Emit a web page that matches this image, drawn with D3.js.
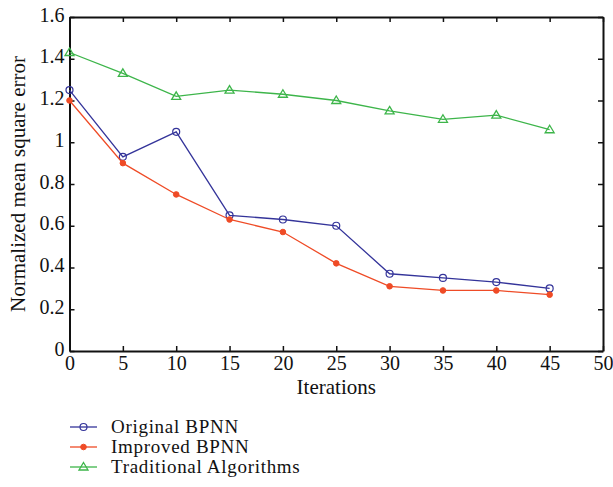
<!DOCTYPE html>
<html>
<head>
<meta charset="utf-8">
<script src="https://cdn.jsdelivr.net/npm/d3@7/dist/d3.min.js"></script>
<style>
  body { margin: 0; background: #fff; }
  text { font-family: "Liberation Serif", "DejaVu Serif", serif; fill: #111; }
</style>
</head>
<body>
<div id="chart"></div>
<script>
const iterations = [0, 5, 10, 15, 20, 25, 30, 35, 40, 45];
const originalBpnn = [1.25, 0.93, 1.05, 0.65, 0.63, 0.60, 0.37, 0.35, 0.33, 0.30];
const improvedBpnn = [1.20, 0.90, 0.75, 0.63, 0.57, 0.42, 0.31, 0.29, 0.29, 0.27];
const traditional = [1.43, 1.33, 1.22, 1.25, 1.23, 1.20, 1.15, 1.11, 1.13, 1.06];
const xTicks = [0, 5, 10, 15, 20, 25, 30, 35, 40, 45, 50];
const yTicks = [0, 0.2, 0.4, 0.6, 0.8, 1, 1.2, 1.4, 1.6];

const series = [
  { name: 'Original BPNN', values: originalBpnn, color: '#34349a', marker: 'circle' },
  { name: 'Improved BPNN', values: improvedBpnn, color: '#ef4b26', marker: 'dot' },
  { name: 'Traditional Algorithms', values: traditional, color: '#3db54a', marker: 'triangle' }
];

const width = 613, height = 487;
const margin = { left: 69.5, right: 10, top: 17, bottom: 136 };

const svg = d3.select('#chart').append('svg')
  .attr('width', width)
  .attr('height', height);

const x = d3.scaleLinear().domain([0, 50]).range([margin.left, width - margin.right]);
const y = d3.scaleLinear().domain([0, 1.6]).range([height - margin.bottom, margin.top]);

const fmt = d => d === 0 || d === 1 ? String(d) : d3.format('.1f')(d);

// axes, ticks pointing inward
svg.append('g')
  .attr('transform', `translate(0,${y(0)})`)
  .call(d3.axisBottom(x).tickValues(xTicks).tickSize(-5).tickPadding(5).tickSizeOuter(0))
  .call(g => g.selectAll('text').style('font-size', '20px'));

svg.append('g')
  .attr('transform', `translate(0,${y(1.6)})`)
  .call(d3.axisTop(x).tickValues(xTicks).tickSize(-5).tickFormat('').tickSizeOuter(0));

svg.append('g')
  .attr('transform', `translate(${x(0)},0)`)
  .call(d3.axisLeft(y).tickValues(yTicks).tickSize(-5).tickPadding(5).tickFormat(fmt).tickSizeOuter(0))
  .call(g => g.selectAll('text').style('font-size', '20px').attr('dy', '0.2em'));

svg.append('g')
  .attr('transform', `translate(${x(50)},0)`)
  .call(d3.axisRight(y).tickValues(yTicks).tickSize(-5).tickFormat('').tickSizeOuter(0));

svg.selectAll('.domain').attr('stroke', '#111').attr('stroke-width', 2);
svg.selectAll('.tick line').attr('stroke', '#111').attr('stroke-width', 1.5);

svg.append('text')
  .attr('x', (x(0) + x(50)) / 2)
  .attr('y', y(0) + 43)
  .attr('text-anchor', 'middle')
  .style('font-size', '21px')
  .text('Iterations');

svg.append('text')
  .attr('transform', `translate(25,${(y(0) + y(1.6)) / 2}) rotate(-90)`)
  .attr('text-anchor', 'middle')
  .style('font-size', '21px')
  .text('Normalized mean square error');

function drawMarker(g, type, color) {
  if (type === 'circle') {
    g.append('circle').attr('r', 3.5).attr('fill', 'none').attr('stroke', color).attr('stroke-width', 1.2);
  } else if (type === 'dot') {
    g.append('circle').attr('r', 2.8).attr('fill', color).attr('stroke', color);
  } else {
    g.append('path').attr('d', 'M0,-4.5L4.5,3L-4.5,3Z')
      .attr('fill', 'none').attr('stroke', color).attr('stroke-width', 1.3);
  }
}

const line = d3.line()
  .x((d, i) => x(iterations[i]))
  .y(d => y(d));

series.forEach(s => {
  svg.append('path')
    .datum(s.values)
    .attr('fill', 'none')
    .attr('stroke', s.color)
    .attr('stroke-width', 1.3)
    .attr('d', line);

  s.values.forEach((v, i) => {
    const g = svg.append('g').attr('transform', `translate(${x(iterations[i])},${y(v)})`);
    drawMarker(g, s.marker, s.color);
  });
});

// legend
const legend = svg.append('g');
series.forEach((s, i) => {
  const ly = 427 + i * 20;
  legend.append('line')
    .attr('x1', 70).attr('x2', 97)
    .attr('y1', ly).attr('y2', ly)
    .attr('stroke', s.color).attr('stroke-width', 1.3);
  drawMarker(legend.append('g').attr('transform', `translate(83.5,${ly})`), s.marker, s.color);
  legend.append('text')
    .attr('x', 111)
    .attr('y', ly + 6)
    .style('font-size', '19px')
    .style('letter-spacing', '0.7px')
    .text(s.name);
});
</script>
</body>
</html>
